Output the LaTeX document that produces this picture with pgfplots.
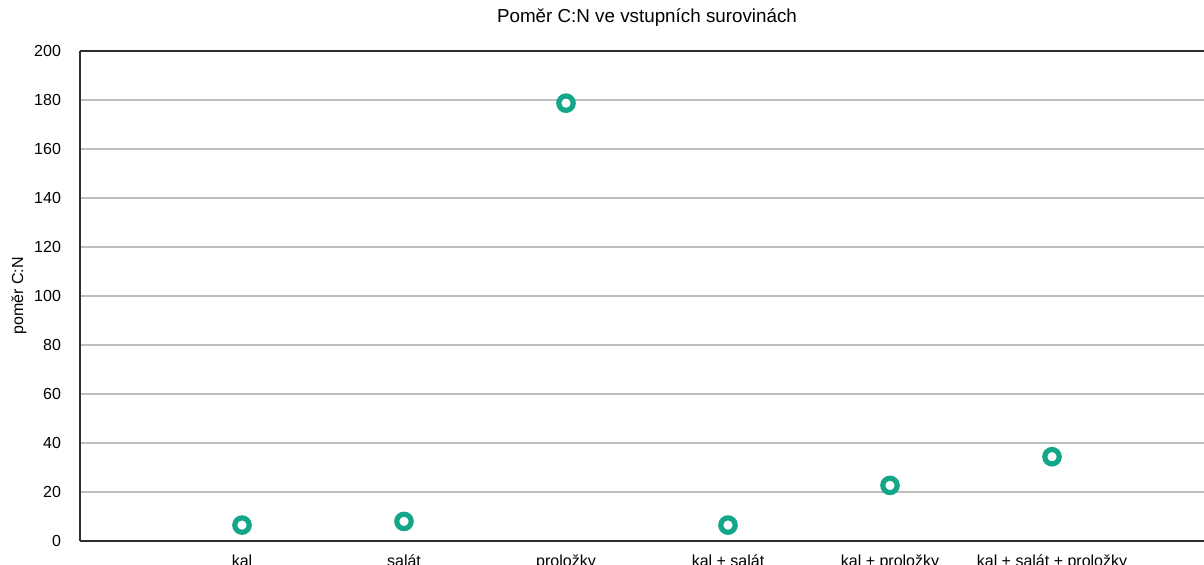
\documentclass[border=0pt]{standalone}
\usepackage{fontspec}
\setmainfont{Liberation Sans}
\usepackage{pgfplots}
\pgfplotsset{compat=1.18}
\usetikzlibrary{calc}
\definecolor{ringteal}{RGB}{20,166,136}
\definecolor{gridgray}{RGB}{190,190,190}
\definecolor{spine}{RGB}{45,45,45}

\begin{document}
\begin{tikzpicture}
\begin{axis}[
  scale only axis=true,
  width=567pt, height=245pt,
  xmin=0, xmax=7,
  ymin=0, ymax=200,
  ytick={0,20,...,200},
  xtick={1,2,3,4,5,6},
  xticklabels={kal, salát, proložky, kal + salát, kal + proložky, kal + salát + proložky},
  major tick length=0pt,
  ymajorgrids=true,
  grid style={gridgray, line width=0.6pt},
  axis y line*=left,
  axis line style={spine, line width=1pt},
  tick label style={font=\fontsize{8}{10}\selectfont},
  /pgf/number format/assume math mode=true,
  yticklabel style={xshift=-6pt},
  xticklabel style={yshift=-3.5pt},
  ylabel={poměr C:N},
  ylabel style={font=\fontsize{8}{10}\selectfont, yshift=-3pt},
  title={Poměr C:N ve vstupních surovinách},
  title style={font=\fontsize{9.4}{11}\selectfont, yshift=3pt},
  clip=false,
]
\addplot[only marks, mark=*, mark size=3.6pt,
  mark options={draw=ringteal, fill=white, line width=2.6pt}]
  coordinates {
  (1,6.5) (2,8.0) (3,178.7) (4,6.5) (5,22.7) (6,34.4)
};
\coordinate (bl) at (rel axis cs:0,0);
\end{axis}
\pgfresetboundingbox
\path[use as bounding box] ($(bl)+(-40pt,-11.5pt)$) rectangle ($(bl)+(562pt,270.5pt)$);
\end{tikzpicture}
\end{document}
